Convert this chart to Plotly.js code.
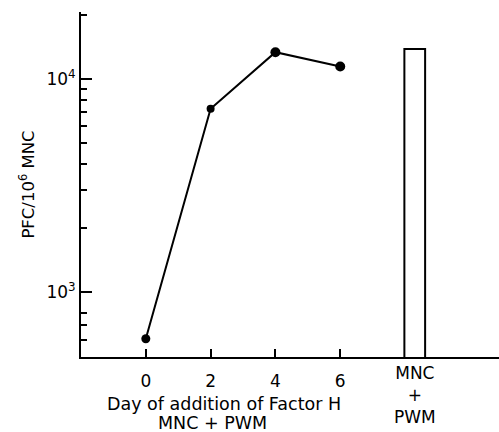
<!DOCTYPE html>
<html>
<head>
<meta charset="utf-8">
<script src="https://cdn.plot.ly/plotly-3.0.1.min.js"></script>
<style>html,body{margin:0;padding:0;background:#fff}#chart{width:499px;height:432px}</style>
</head>
<body>
<div id="chart"></div>
<script>
// Data
const days = [0, 2, 4, 6];
const pfc = [605, 7240, 13340, 11420];
const barX = [8.3];
const barValue = [13800];
const barLabel = 'MNC<br>+<br>PWM';
const xTickVals = [0, 2, 4, 6];
const xTickText = ['0', '2', '4', '6'];
const yTickVals = [1000, 10000];
const yTickText = ['10<sup>3</sup>', '10<sup>4</sup>'];
const yMinorVals = [600, 700, 800, 2000, 3000, 4000, 5000, 6000, 7000, 8000, 9000, 20000];

const fam = 'DejaVu Sans, Arial, sans-serif';
const f = (s) => ({family: fam, size: s, color: '#000000'});

const traces = [
  {
    type: 'bar', x: barX, y: barValue, width: 0.64,
    marker: {color: '#ffffff', line: {color: '#000000', width: 2}},
    hoverinfo: 'skip'
  },
  {
    type: 'scatter', mode: 'lines+markers', x: days, y: pfc,
    line: {color: '#000000', width: 2},
    marker: {color: '#000000', opacity: 1, size: [9, 8, 10, 10], line: {width: 0}}
  }
];

const layout = {
  width: 499, height: 432,
  margin: {l: 81, r: 0, t: 12, b: 74.5},
  paper_bgcolor: '#ffffff', plot_bgcolor: '#ffffff',
  showlegend: false,
  font: f(17),
  xaxis: {
    range: [-2, 10.9],
    tickmode: 'array', tickvals: xTickVals, ticktext: xTickText,
    ticks: 'inside', ticklen: 8, tickwidth: 2, tickcolor: '#000000',
    ticklabelstandoff: 8,
    showline: true, linecolor: '#000000', linewidth: 2,
    showgrid: false, zeroline: false,
    tickfont: f(17)
  },
  yaxis: {
    type: 'log',
    range: [Math.log10(497), 4.3135],
    tickmode: 'array', tickvals: yTickVals, ticktext: yTickText,
    ticks: 'inside', ticklen: 11, tickwidth: 2, tickcolor: '#000000',
    minor: {tickmode: 'array', tickvals: yMinorVals, ticks: 'inside', ticklen: 6, tickwidth: 1.5, tickcolor: '#000000', showgrid: false},
    showline: true, linecolor: '#000000', linewidth: 2,
    showgrid: false, zeroline: false,
    tickfont: f(17),
    title: {text: 'PFC/10<sup>6</sup> MNC', font: f(16.5), standoff: 8}
  },
  annotations: [
    {xref: 'x', yref: 'paper', x: barX[0], y: 0, yanchor: 'top', yshift: -4,
     text: barLabel, showarrow: false, font: f(17)},
    {xref: 'x', yref: 'paper', x: 2.42, y: 0, yanchor: 'middle', yshift: -46.5,
     text: 'Day of addition of Factor H', showarrow: false, font: f(17.5)},
    {xref: 'x', yref: 'paper', x: 2.05, y: 0, yanchor: 'middle', yshift: -65.5,
     text: 'MNC + PWM', showarrow: false, font: f(17.5)}
  ]
};

Plotly.newPlot('chart', traces, layout, {displayModeBar: false});
</script>
</body>
</html>
